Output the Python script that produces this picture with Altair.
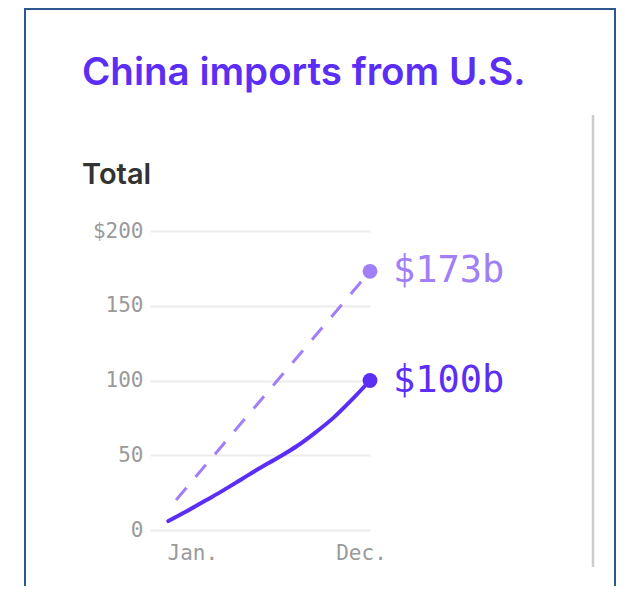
import altair as alt
import pandas as pd

# ---- data ----
months = list(range(1, 13))
actual = [6, 12.5, 19.5, 26.5, 34, 41.5, 48.5, 56, 65, 75, 87, 100]
pace_months = [1, 12]
pace_values = [14, 173]
end_months = [12, 12]
end_values = [100, 173]
end_labels = ["$100b", "$173b"]
end_series = ["actual", "pace"]
y_ticks = [0, 50, 100, 150, 200]
x_ticks = [1, 12]
title_text = "China imports from U.S."
subtitle_text = "Total"

DARK = "#5b2ef5"
LIGHT = "#a07ff7"
MONO = "DejaVu Sans Mono"
SANS = "Inter"

x_enc = alt.X(
    "month:Q",
    scale=alt.Scale(domain=[0, 12], nice=False, zero=False),
    axis=alt.Axis(
        values=x_ticks,
        labelExpr="datum.value == 1 ? 'Jan.' : 'Dec.'",
        grid=False, domain=False, ticks=False,
        labelFont=MONO, labelFontSize=21, labelColor="#9a9a9a",
        labelPadding=12, labelFlush=False, labelAlign="center",
        labelOffset={"condition": {"test": "datum.value == 1", "value": 24}, "value": -9},
        title=None,
    ),
)
y_enc = alt.Y(
    "value:Q",
    scale=alt.Scale(domain=[0, 200], nice=False),
    axis=alt.Axis(
        values=y_ticks,
        labelExpr="datum.value == 200 ? '$200' : datum.label",
        domain=False, ticks=False,
        gridColor="#ececec", gridWidth=2,
        labelFont=MONO, labelFontSize=21, labelColor="#9a9a9a",
        labelPadding=7, title=None,
    ),
)

actual_df = pd.DataFrame({"month": months, "value": actual})
pace_df = pd.DataFrame({"month": pace_months, "value": pace_values})
end_df = pd.DataFrame({"month": end_months, "value": end_values,
                       "label": end_labels, "series": end_series})
color_scale = alt.Scale(domain=["actual", "pace"], range=[DARK, LIGHT])

frame = alt.Chart(pd.DataFrame({"a": [0]})).mark_rect(
    fillOpacity=0, stroke="#2c5790", strokeWidth=2
).encode(x=alt.value(-125), x2=alt.value(465), y=alt.value(-222), y2=alt.value(420))

side_rule = alt.Chart(pd.DataFrame({"a": [0]})).mark_rule(
    color="#cccccc", strokeWidth=2.5
).encode(x=alt.value(443), y=alt.value(-116), y2=alt.value(336))

title = alt.Chart(pd.DataFrame({"t": [title_text]})).mark_text(
    align="left", baseline="alphabetic", font=SANS, fontSize=38.5,
    fontWeight=600, color=DARK
).encode(x=alt.value(-68), y=alt.value(-146), text="t:N")

subtitle = alt.Chart(pd.DataFrame({"t": [subtitle_text]})).mark_text(
    align="left", baseline="alphabetic", font=SANS, fontSize=29,
    fontWeight=600, color="#333333"
).encode(x=alt.value(-68), y=alt.value(-47), text="t:N")

pace_line = alt.Chart(pace_df).mark_line(
    color=LIGHT, strokeWidth=3, strokeDash=[16, 14], strokeDashOffset=18
).encode(x=x_enc, y=y_enc)

actual_line = alt.Chart(actual_df).mark_line(
    color=DARK, strokeWidth=4, interpolate="monotone", strokeCap="round"
).encode(x=x_enc, y=y_enc)

dots = alt.Chart(end_df).mark_circle(size=220, opacity=1).encode(
    x=x_enc, y=y_enc,
    color=alt.Color("series:N", scale=color_scale, legend=None),
)

labels = alt.Chart(end_df).mark_text(
    align="left", baseline="middle", dx=23, font=MONO, fontSize=37
).encode(
    x=x_enc, y=y_enc, text="label:N",
    color=alt.Color("series:N", scale=color_scale, legend=None),
)

chart = alt.layer(
    frame, side_rule, title, subtitle, pace_line, actual_line, dots, labels
).properties(
    width=220, height=299,
    padding={"left": 142, "top": 223, "right": 247, "bottom": 56},
    autosize=alt.AutoSizeParams(type="none"),
    background="white",
).configure_view(strokeWidth=0)

chart.save("out.html", embed_options={"renderer": "svg", "actions": False})
